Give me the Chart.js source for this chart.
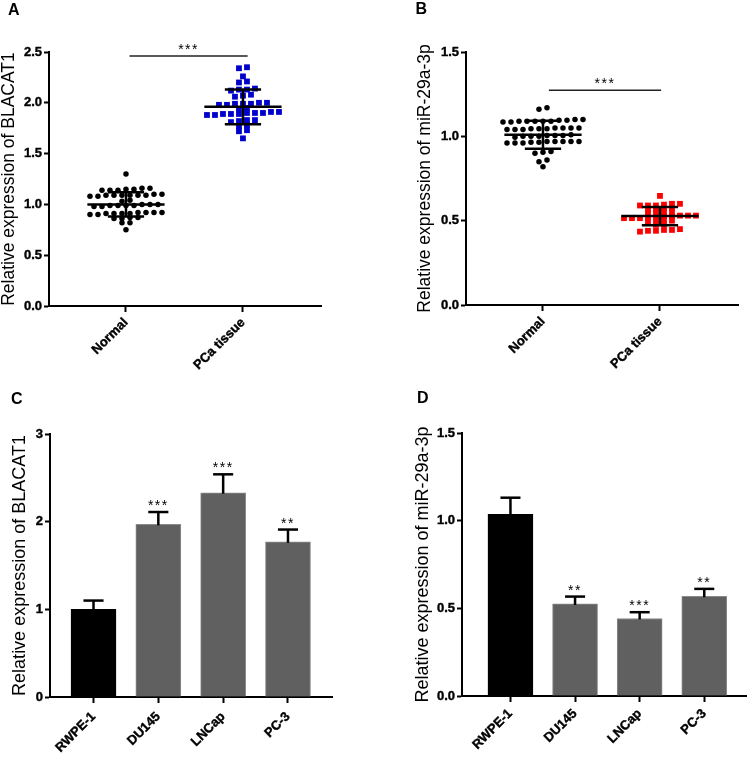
<!DOCTYPE html>
<html>
<head>
<meta charset="utf-8">
<script src="https://cdn.jsdelivr.net/npm/chart.js@4/dist/chart.umd.min.js"></script>
<style>
  html, body { margin: 0; padding: 0; background: #fff; }
  #wrap { position: relative; width: 750px; height: 758px; overflow: hidden; background: #fff; }
  .panel { position: absolute; }
  .panel canvas { display: block; }
  .lbl { position: absolute; font: bold 16px "Liberation Sans", Arial, sans-serif; line-height: 1; color: #000; }
</style>
</head>
<body>
<div id="wrap">
  <div class="panel" style="left:0px;top:0px;"><canvas id="cA" width="375" height="380"></canvas></div>
  <div class="panel" style="left:375px;top:0px;"><canvas id="cB" width="375" height="380"></canvas></div>
  <div class="panel" style="left:0px;top:380px;"><canvas id="cC" width="375" height="378"></canvas></div>
  <div class="panel" style="left:375px;top:380px;"><canvas id="cD" width="375" height="378"></canvas></div>
  <div class="lbl" style="left:8px;top:2px;">A</div>
  <div class="lbl" style="left:415.5px;top:1.2px;">B</div>
  <div class="lbl" style="left:11px;top:390.6px;">C</div>
  <div class="lbl" style="left:417px;top:389.6px;">D</div>
</div>
<script>
// ---------------- DATA ----------------
const scatterCategories = ['Normal', 'PCa tissue'];

// Panel A: BLACAT1 in tissues
const blacatNormal = [
  0.75,
  0.82, 0.82,
  0.86, 0.86, 0.87, 0.87,
  0.90, 0.91, 0.91, 0.92, 0.92, 0.90, 0.91, 0.92, 0.91, 0.92,
  0.98, 0.99, 0.99, 1.00, 0.99, 0.98, 1.00, 0.99, 1.00,
  1.03, 1.04,
  1.08, 1.09, 1.09, 1.10, 1.09, 1.10, 1.09, 1.08, 1.09, 1.09,
  1.14, 1.15, 1.16, 1.14, 1.15, 1.16, 1.14,
  1.30
];
const blacatPCa = [
  1.65,
  1.72, 1.73,
  1.77, 1.78,
  1.81, 1.82, 1.83, 1.83,
  1.88, 1.88, 1.89, 1.89, 1.89, 1.90, 1.90, 1.90, 1.91, 1.91,
  1.94, 1.95,
  1.98, 1.98, 1.99, 1.99, 1.99, 2.00, 2.00,
  2.06, 2.07, 2.08,
  2.12, 2.13, 2.13, 2.14,
  2.20, 2.21,
  2.26,
  2.34, 2.35
];
const blacatTissueMean = [1.00, 1.96];
const blacatTissueSD = [0.12, 0.17];
const blacatTissueSig = '***';
const blacatTicks = [0, 0.5, 1.0, 1.5, 2.0, 2.5];

// Panel B: miR-29a-3p in tissues
const mirNormal = [
  0.82,
  0.85, 0.86,
  0.90, 0.905, 0.91,
  0.96, 0.96, 0.965, 0.965, 0.97, 0.97, 0.97, 0.97, 0.97, 0.96,
  1.00, 1.00, 1.00, 1.005, 1.005, 1.01, 1.005, 0.995,
  1.04, 1.04, 1.045, 1.045, 1.045, 1.05, 1.05, 1.05, 1.05, 1.04,
  1.085, 1.085, 1.09, 1.09, 1.09, 1.09, 1.095, 1.095, 1.10, 1.10, 1.09,
  1.16, 1.17
];
const mirPCa = [
  0.435, 0.44, 0.44, 0.445, 0.445, 0.45,
  0.475, 0.48,
  0.495, 0.495, 0.50, 0.50,
  0.515, 0.515, 0.515, 0.52, 0.52, 0.525, 0.525, 0.53, 0.53, 0.53,
  0.545, 0.55, 0.55, 0.55,
  0.565, 0.57, 0.575, 0.575,
  0.59, 0.59, 0.59, 0.595, 0.60, 0.60,
  0.647
];
const mirTissueMean = [1.01, 0.527];
const mirTissueSD = [0.083, 0.054];
const mirTissueSig = '***';
const mirTicks = [0, 0.5, 1.0, 1.5];

// Panels C / D: cell lines
const cellLines = ['RWPE-1', 'DU145', 'LNCap', 'PC-3'];
const blacatCells = [1.00, 1.97, 2.33, 1.77];
const blacatCellsErr = [0.10, 0.14, 0.21, 0.14];
const blacatCellsSig = ['', '***', '***', '**'];
const blacatCellTicks = [0, 1, 2, 3];

const mirCells = [1.036, 0.525, 0.442, 0.569];
const mirCellsErr = [0.095, 0.042, 0.036, 0.042];
const mirCellsSig = ['', '**', '***', '**'];
const mirCellTicks = [0, 0.5, 1.0, 1.5];

// ---------------- RENDERING ----------------
const FONT = '"Liberation Sans", Arial, Helvetica, sans-serif';

// Column-scatter layout: group close values into rows, spread each row horizontally
function columnScatter(values, groupIndex, pxPerY, pxPerX, rowThr, spacing, minDy) {
  const sorted = values.slice().sort((a, b) => a - b);
  const rows = [];
  for (const v of sorted) {
    const r = rows[rows.length - 1];
    if (r && (v - r[0]) * pxPerY <= rowThr + 1e-6) r.push(v); else rows.push([v]);
  }
  const placed = [], pts = [];
  for (const r of rows) {
    const n = r.length;
    const ry = r.reduce((a, b) => a + b, 0) / n * pxPerY;
    const half = n % 2 === 0 ? 0.5 : 0;
    const cands = [];
    for (let k = -30; k <= 30; k++) cands.push((k + half) * spacing);
    cands.sort((a, b) => Math.abs(a) - Math.abs(b) || a - b);
    const chosen = [];
    for (const c of cands) {
      if (chosen.length >= n) break;
      const hit = placed.some(p => Math.abs(p.x - c) < spacing * 0.9 && Math.abs(p.y - ry) < minDy);
      if (!hit) chosen.push(c);
    }
    chosen.sort((a, b) => a - b);
    r.forEach((v, i) => pts.push({ x: groupIndex + chosen[i] / pxPerX, y: v }));
    chosen.forEach(c => placed.push({ x: c, y: ry }));
  }
  return pts;
}

function axisOptions(cfg) {
  return {
    responsive: false,
    animation: false,
    events: [],
    layout: { padding: { left: cfg.padL, right: cfg.padR, top: cfg.padT, bottom: 0 } },
    plugins: { legend: { display: false }, tooltip: { enabled: false }, title: { display: false } },
    scales: {
      x: {
        type: 'linear', min: cfg.xmin, max: cfg.xmax, offset: false,
        afterBuildTicks: s => { s.ticks = cfg.cats.map((c, i) => ({ value: i })); },
        afterFit: s => { s.height = cfg.xh; },
        grid: { display: true, drawOnChartArea: false, drawTicks: true, tickLength: 6, tickWidth: 2, tickColor: '#000', offset: false },
        border: { display: true, color: '#000', width: 2 },
        ticks: {
          autoSkip: false, minRotation: 45, maxRotation: 45, padding: cfg.xpad, color: '#000',
          textStrokeColor: '#000', textStrokeWidth: 0.4,
          font: { family: FONT, size: 13, weight: 'bold' },
          callback: v => cfg.cats[v]
        }
      },
      y: {
        type: 'linear', min: 0, max: cfg.ymax,
        afterBuildTicks: s => { s.ticks = cfg.yticks.map(v => ({ value: v })); },
        afterFit: s => { s.width = cfg.yw; },
        grid: { display: true, drawOnChartArea: false, drawTicks: true, tickLength: 5, tickWidth: 2, tickColor: '#000' },
        border: { display: true, color: '#000', width: 2 },
        ticks: {
          padding: 2, color: '#000',
          textStrokeColor: '#000', textStrokeWidth: 0.4,
          font: { family: FONT, size: 13, weight: 'bold' },
          callback: v => Number(v).toFixed(cfg.dec)
        },
        title: {
          display: true, text: cfg.ytitle, color: '#000', padding: 0,
          font: { family: FONT, size: cfg.titleSize, weight: 'normal', lineHeight: 1 }
        }
      }
    }
  };
}

function line(ctx, x1, y1, x2, y2) {
  ctx.beginPath(); ctx.moveTo(x1, y1); ctx.lineTo(x2, y2); ctx.stroke();
}

function stars(ctx, text, x, y) {
  ctx.save();
  ctx.fillStyle = '#000';
  ctx.font = '14px ' + FONT;
  ctx.textAlign = 'center';
  ctx.textBaseline = 'alphabetic';
  try { ctx.letterSpacing = '1.5px'; } catch (e) {}
  ctx.fillText(text, x, y);
  ctx.restore();
}

function meanSdPlugin(means, sds, sig, sigY, sigX0, sigX1) {
  return {
    id: 'meanSd',
    afterDatasetsDraw(chart) {
      const { ctx } = chart; const x = chart.scales.x, y = chart.scales.y;
      ctx.save();
      ctx.strokeStyle = '#000'; ctx.lineWidth = 2.5; ctx.lineCap = 'butt';
      means.forEach((m, i) => {
        const sd = sds[i];
        const xc = x.getPixelForValue(i);
        const ym = y.getPixelForValue(m), yt = y.getPixelForValue(m + sd), yb = y.getPixelForValue(m - sd);
        line(ctx, x.getPixelForValue(i - 0.33), ym, x.getPixelForValue(i + 0.33), ym);
        line(ctx, xc, yt, xc, yb);
        line(ctx, x.getPixelForValue(i - 0.155), yt, x.getPixelForValue(i + 0.155), yt);
        line(ctx, x.getPixelForValue(i - 0.155), yb, x.getPixelForValue(i + 0.155), yb);
      });
      // significance bracket
      const by = y.getPixelForValue(sigY);
      const bx0 = x.getPixelForValue(sigX0), bx1 = x.getPixelForValue(sigX1);
      ctx.strokeStyle = '#222'; ctx.lineWidth = 1.5;
      line(ctx, bx0, by, bx1, by);
      ctx.restore();
      stars(ctx, sig, (bx0 + bx1) / 2, by - 2);
    }
  };
}

function errorBarPlugin(vals, errs, sigs) {
  return {
    id: 'errBars',
    afterDatasetsDraw(chart) {
      const { ctx } = chart; const x = chart.scales.x, y = chart.scales.y;
      ctx.save();
      ctx.strokeStyle = '#000'; ctx.lineWidth = 2.5;
      vals.forEach((v, i) => {
        const xc = x.getPixelForValue(i);
        const y0 = y.getPixelForValue(v), y1 = y.getPixelForValue(v + errs[i]);
        line(ctx, xc, y0 + 1, xc, y1);
        line(ctx, x.getPixelForValue(i - 0.155), y1, x.getPixelForValue(i + 0.155), y1);
      });
      ctx.restore();
      vals.forEach((v, i) => {
        if (sigs[i]) stars(ctx, sigs[i], x.getPixelForValue(i), y.getPixelForValue(v + errs[i]) - 2);
      });
    }
  };
}

function scatterPanel(id, cfg, g0, g1, color, means, sds, sig, sigY, sigX0, sigX1) {
  const plotH = (cfg.xhTotal - cfg.xh) - cfg.padT;
  const pxPerY = plotH / cfg.ymax;
  const plotW = 375 - cfg.padR - cfg.padL - cfg.yw;
  const pxPerX = plotW / (cfg.xmax - cfg.xmin);
  new Chart(document.getElementById(id), {
    type: 'scatter',
    data: {
      datasets: [
        { data: columnScatter(g0, 0, pxPerY, pxPerX, cfg.rowThr, 8, cfg.minDy),
          pointStyle: 'circle', pointRadius: 2.75, backgroundColor: '#000', borderWidth: 0 },
        { data: columnScatter(g1, 1, pxPerY, pxPerX, cfg.rowThr, 8, cfg.minDy),
          pointStyle: 'rect', pointRadius: 4.1, backgroundColor: color, borderWidth: 0 }
      ]
    },
    options: axisOptions(cfg),
    plugins: [meanSdPlugin(means, sds, sig, sigY, sigX0, sigX1)]
  });
}

function barPanel(id, cfg, vals, errs, sigs) {
  new Chart(document.getElementById(id), {
    type: 'bar',
    data: {
      datasets: [{
        data: vals.map((v, i) => ({ x: i, y: v })),
        backgroundColor: vals.map((v, i) => i === 0 ? '#000000' : '#606060'),
        borderColor: vals.map((v, i) => i === 0 ? '#000000' : '#8a8a8a'),
        borderWidth: 1,
        barThickness: 45
      }]
    },
    options: axisOptions(cfg),
    plugins: [errorBarPlugin(vals, errs, sigs)]
  });
}

// Panel A
scatterPanel('cA', {
  cats: scatterCategories, xmin: -0.658, xmax: 1.667, ymax: 2.5, yticks: blacatTicks, dec: 1,
  padL: 0, padR: 54, padT: 52, yw: 49, xh: 74, xhTotal: 380, xpad: 3,
  ytitle: 'Relative expression of BLACAT1', titleSize: 17.5, rowThr: 3.5, minDy: 4
}, blacatNormal, blacatPCa, '#0000cc', blacatTissueMean, blacatTissueSD, blacatTissueSig, 2.46, 0.03, 1.04);

// Panel B
scatterPanel('cB', {
  cats: scatterCategories, xmin: -0.658, xmax: 1.667, ymax: 1.5, yticks: mirTicks, dec: 1,
  padL: 41, padR: 12, padT: 52, yw: 50, xh: 75, xhTotal: 380, xpad: 3,
  ytitle: 'Relative expression of miR-29a-3p', titleSize: 17.5, rowThr: 2.6, minDy: 2
}, mirNormal, mirPCa, '#ff0000', mirTissueMean, mirTissueSD, mirTissueSig, 1.273, 0.05, 1.01);

// Panel C
barPanel('cC', {
  cats: cellLines, xmin: -0.671, xmax: 3.679, ymax: 3, yticks: blacatCellTicks, dec: 0,
  padL: 11, padR: 43, padT: 54, yw: 39, xh: 61, xpad: 6,
  ytitle: 'Relative expression of BLACAT1', titleSize: 18
}, blacatCells, blacatCellsErr, blacatCellsSig);

// Panel D
barPanel('cD', {
  cats: cellLines, xmin: -0.75, xmax: 3.646, ymax: 1.5, yticks: mirCellTicks, dec: 1,
  padL: 39, padR: 4, padT: 53, yw: 48, xh: 62, xpad: 4,
  ytitle: 'Relative expression of miR-29a-3p', titleSize: 18
}, mirCells, mirCellsErr, mirCellsSig);
</script>
</body>
</html>
